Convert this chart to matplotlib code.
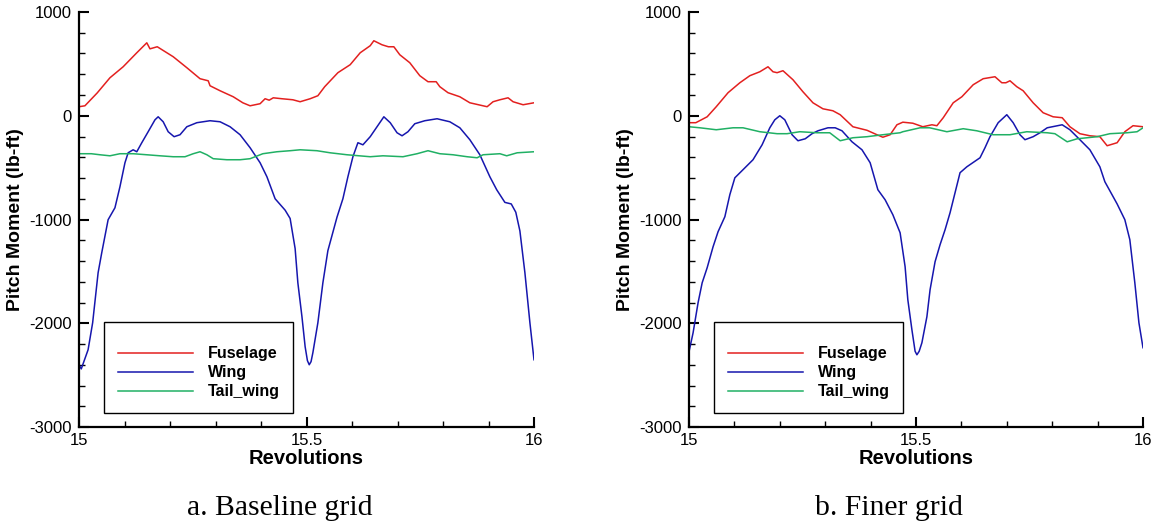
import matplotlib
matplotlib.use("Agg")
import matplotlib.pyplot as plt
from matplotlib.ticker import MultipleLocator, FuncFormatter

plt.rcParams['font.family'] = ['Liberation Sans', 'DejaVu Sans']

# ---------------- baseline grid ----------------
base_fuselage_rev = [15.000, 15.013, 15.040, 15.068, 15.097, 15.127, 15.149, 15.156, 15.172, 15.207,
                     15.237, 15.266, 15.284, 15.288, 15.310, 15.339, 15.360, 15.376, 15.398, 15.409,
                     15.418, 15.427, 15.446, 15.470, 15.486, 15.508, 15.525, 15.540, 15.569, 15.596,
                     15.618, 15.640, 15.648, 15.666, 15.680, 15.692, 15.705, 15.727, 15.749, 15.767,
                     15.785, 15.793, 15.811, 15.837, 15.859, 15.897, 15.910, 15.925, 15.943, 15.954,
                     15.976, 16.000]
base_fuselage_val = [87, 96, 220, 366, 472, 607, 703, 645, 665, 569,
                     463, 357, 337, 289, 241, 183, 125, 96, 116, 164,
                     150, 173, 164, 154, 135, 164, 193, 280, 415, 492,
                     607, 675, 723, 684, 665, 665, 588, 511, 386, 328,
                     328, 280, 222, 183, 125, 87, 135, 154, 173, 135,
                     106, 125]

base_wing_rev = [15.000, 15.005, 15.020, 15.030, 15.042, 15.050, 15.064, 15.079, 15.090, 15.101,
                 15.108, 15.119, 15.127, 15.138, 15.152, 15.167, 15.174, 15.185, 15.196, 15.209,
                 15.222, 15.237, 15.259, 15.288, 15.310, 15.332, 15.354, 15.376, 15.398, 15.413,
                 15.431, 15.453, 15.464, 15.475, 15.481, 15.490, 15.497, 15.502, 15.506, 15.510,
                 15.514, 15.525, 15.536, 15.547, 15.567, 15.580, 15.591, 15.602, 15.613, 15.624,
                 15.640, 15.655, 15.670, 15.684, 15.699, 15.710, 15.723, 15.738, 15.760, 15.787,
                 15.815, 15.837, 15.859, 15.881, 15.903, 15.918, 15.936, 15.950, 15.960, 15.969,
                 15.980, 15.991, 16.000]
base_wing_val = [-2400, -2440, -2255, -1995, -1513, -1320, -1002, -887, -684, -453,
                 -357, -328, -347, -260, -154, -39, -10, -58, -154, -202,
                 -183, -106, -67, -48, -58, -106, -183, -308, -453, -588,
                 -800, -910, -990, -1280, -1610, -1937, -2226, -2360, -2400, -2370,
                 -2284, -1995, -1610, -1300, -978, -800, -588, -395, -260, -280,
                 -202, -106, -10, -67, -164, -193, -154, -77, -48, -29,
                 -58, -116, -231, -376, -588, -713, -835, -850, -930, -1110,
                 -1513, -1995, -2352]

base_tail_rev = [15.000, 15.027, 15.046, 15.068, 15.090, 15.119, 15.149, 15.178, 15.207, 15.233,
                 15.251, 15.266, 15.281, 15.295, 15.325, 15.354, 15.376, 15.404, 15.435, 15.464,
                 15.486, 15.523, 15.552, 15.589, 15.640, 15.668, 15.712, 15.743, 15.767, 15.793,
                 15.822, 15.853, 15.875, 15.888, 15.925, 15.940, 15.963, 16.000]
base_tail_val = [-366, -366, -376, -386, -366, -366, -376, -386, -395, -395,
                 -366, -347, -376, -414, -424, -424, -414, -366, -347, -337,
                 -328, -337, -357, -376, -395, -386, -395, -366, -337, -366,
                 -376, -395, -405, -376, -366, -386, -357, -347]

# ---------------- finer grid ----------------
fine_fuselage_rev = [15.000, 15.015, 15.040, 15.060, 15.086, 15.112, 15.134, 15.156, 15.174, 15.185,
                     15.194, 15.207, 15.229, 15.251, 15.273, 15.295, 15.317, 15.333, 15.361, 15.392,
                     15.414, 15.427, 15.443, 15.458, 15.471, 15.493, 15.515, 15.535, 15.546, 15.560,
                     15.582, 15.601, 15.626, 15.648, 15.674, 15.689, 15.698, 15.707, 15.722, 15.736,
                     15.758, 15.780, 15.802, 15.822, 15.839, 15.861, 15.883, 15.905, 15.921, 15.943,
                     15.960, 15.978, 16.000]
fine_fuselage_val = [-67, -67, -10, 87, 222, 318, 386, 424, 472, 424,
                     415, 434, 347, 231, 125, 67, 48, 10, -106, -140,
                     -183, -207, -183, -87, -62, -72, -106, -87, -96, -19,
                     125, 183, 299, 357, 376, 318, 318, 337, 280, 241,
                     125, 29, -10, -19, -106, -173, -193, -202, -289, -260,
                     -154, -96, -106]

fine_wing_rev = [15.000, 15.009, 15.020, 15.029, 15.040, 15.053, 15.064, 15.079, 15.090, 15.101,
                 15.119, 15.141, 15.161, 15.178, 15.189, 15.200, 15.211, 15.227, 15.240, 15.256,
                 15.271, 15.284, 15.306, 15.322, 15.337, 15.359, 15.381, 15.399, 15.416, 15.432,
                 15.449, 15.465, 15.476, 15.482, 15.491, 15.498, 15.502, 15.507, 15.513, 15.524,
                 15.531, 15.542, 15.553, 15.564, 15.575, 15.597, 15.612, 15.641, 15.652, 15.663,
                 15.681, 15.700, 15.714, 15.729, 15.740, 15.758, 15.773, 15.789, 15.822, 15.839,
                 15.861, 15.883, 15.905, 15.916, 15.943, 15.960, 15.971, 15.982, 15.991, 16.000]
fine_wing_val = [-2275, -2092, -1802, -1610, -1465, -1263, -1118, -973, -760, -598,
                 -520, -424, -280, -116, -39, 0, -39, -183, -241, -222,
                 -173, -145, -116, -116, -145, -251, -328, -453, -713, -810,
                 -954, -1128, -1455, -1773, -2063, -2270, -2304, -2270, -2188, -1937,
                 -1677, -1407, -1243, -1099, -935, -549, -492, -405, -308, -202,
                 -67, 10, -67, -183, -231, -202, -164, -116, -87, -135,
                 -231, -328, -492, -636, -850, -1002, -1195, -1610, -1995, -2236]

fine_tail_rev = [15.000, 15.024, 15.060, 15.097, 15.119, 15.156, 15.194, 15.216, 15.244, 15.282,
                 15.310, 15.333, 15.361, 15.392, 15.427, 15.465, 15.471, 15.509, 15.530, 15.568,
                 15.604, 15.634, 15.670, 15.707, 15.744, 15.789, 15.806, 15.833, 15.855, 15.899,
                 15.927, 15.965, 15.987, 16.000]
fine_tail_val = [-106, -116, -135, -116, -116, -154, -173, -173, -154, -164,
                 -164, -241, -212, -202, -183, -164, -154, -116, -116, -154,
                 -125, -145, -183, -183, -154, -164, -173, -251, -222, -202,
                 -173, -164, -154, -116]

series_names = ["Fuselage", "Wing", "Tail_wing"]
series_colors = ["#e3201f", "#1616ae", "#20b064"]
captions = ["a. Baseline grid", "b. Finer grid"]

panels = [
    [(base_fuselage_rev, base_fuselage_val), (base_wing_rev, base_wing_val), (base_tail_rev, base_tail_val)],
    [(fine_fuselage_rev, fine_fuselage_val), (fine_wing_rev, fine_wing_val), (fine_tail_rev, fine_tail_val)],
]

W, H = 1156, 527
fig = plt.figure(figsize=(W / 100, H / 100), dpi=100)

axes_px = [(79, 534), (689, 1143)]
y_top, y_bot = 12, 427

for (x0, x1), data, cap in zip(axes_px, panels, captions):
    ax = fig.add_axes([x0 / W, 1 - y_bot / H, (x1 - x0) / W, (y_bot - y_top) / H])
    for (rev, val), name, col in zip(data, series_names, series_colors):
        ax.plot(rev, val, color=col, lw=1.1, label=name)

    ax.set_xlim(15, 16)
    ax.set_ylim(-3000, 1000)
    ax.set_xticks([15, 15.5, 16])
    ax.set_yticks([-3000, -2000, -1000, 0, 1000])
    ax.xaxis.set_minor_locator(MultipleLocator(0.1))
    ax.yaxis.set_minor_locator(MultipleLocator(200))
    ax.xaxis.set_major_formatter(FuncFormatter(lambda v, p: f"{v:g}"))
    ax.yaxis.set_major_formatter(FuncFormatter(lambda v, p: f"{v:g}"))
    ax.tick_params(which='major', direction='in', length=7.5, width=1.5, labelsize=12, pad=4)
    ax.tick_params(which='minor', direction='in', length=4.5, width=1.0)
    ax.tick_params(axis='y', which='major', pad=5)
    for s in ('top', 'right'):
        ax.spines[s].set_visible(False)
    for s in ('left', 'bottom'):
        ax.spines[s].set_linewidth(1.6)

    ax.set_xlabel("Revolutions", fontsize=14.5, fontweight='bold', labelpad=1)
    ax.set_ylabel("Pitch Moment (lb-ft)", fontsize=14, fontweight='bold', labelpad=4)

    leg = ax.legend(loc='lower left', bbox_to_anchor=(0.055, 0.034), borderaxespad=0,
                    prop={'size': 11.5, 'weight': 'bold'}, handlelength=4.75,
                    handletextpad=0.9, labelspacing=0.25, borderpad=0.85,
                    title=' ', title_fontsize=5.7,
                    fancybox=False, framealpha=1, edgecolor='black')
    leg.get_frame().set_linewidth(1.0)

    fig.text(((x0 + x1) / 2 - 27) / W, 1 - 515 / H, cap, ha='center', va='baseline',
             fontsize=21.3, family='Liberation Serif')

fig.savefig("out.png", dpi=100)
